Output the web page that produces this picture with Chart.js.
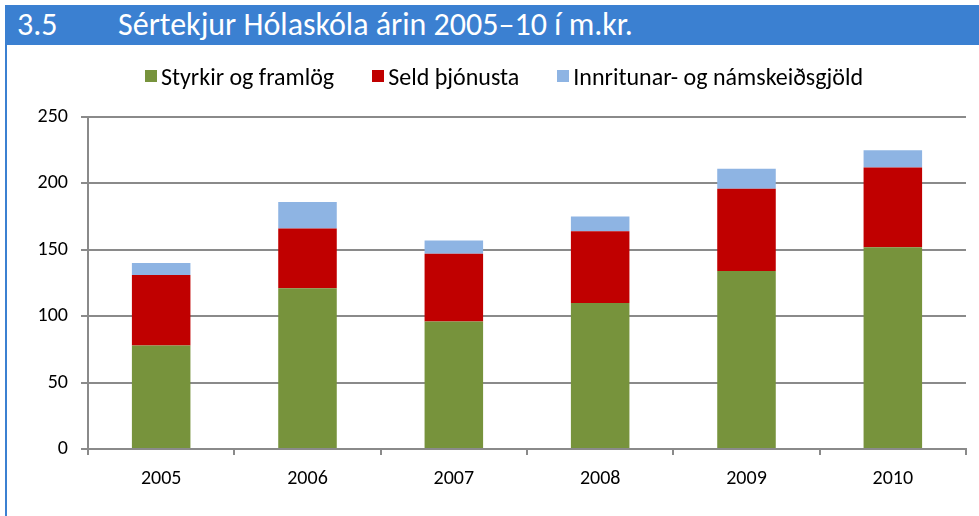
<!DOCTYPE html>
<html>
<head>
	<meta charset="utf-8">
	<title>Sértekjur Hólaskóla</title>
	<script src="https://cdn.jsdelivr.net/npm/chart.js@4.4.1/dist/chart.umd.min.js"></script>
	<style>
		body { margin: 0; background: #fff; }
		#wrap { position: relative; width: 979px; height: 516px; overflow: hidden; }
		#barChart { position: absolute; left: 0; top: 0; }
		#titleBar
		{
			position: absolute; left: 5px; top: 5px; width: 974px; height: 40px;
			background: #3b80d1; color: #fff;
			font-family: Carlito, "Liberation Sans Narrow", "Open Sans", sans-serif;
			font-size: 32px; line-height: 40px; white-space: nowrap;
		}
		#titleBar span.num { position: absolute; left: 12px; }
		#titleBar span.txt { position: absolute; left: 113px; }
		#leftLine { position: absolute; left: 5px; top: 45px; width: 2px; height: 471px; background: #3b80d1; }
		#legend
		{
			position: absolute; left: 18px; top: 60px; width: 972px; height: 32px;
			display: flex; justify-content: center; align-items: center;
			font-family: Carlito, "Liberation Sans Narrow", "Open Sans", sans-serif;
			font-size: 24px; color: #000; white-space: nowrap;
		}
		#legend .item { display: flex; align-items: center; margin: 0 19px; }
		#legend .box { width: 12px; height: 12px; margin-right: 4px; }
	</style>
</head>
<body>
<div id="wrap">
	<canvas id="barChart" width="979" height="516"></canvas>
	<div id="titleBar"><span class="num">3.5</span><span class="txt">Sértekjur Hólaskóla árin 2005–10 í m.kr.</span></div>
	<div id="leftLine"></div>
	<div id="legend"></div>
</div>
<script>
	// data, m.kr.
	var YEARS = ['2005', '2006', '2007', '2008', '2009', '2010'];
	var STYRKIR = [78, 121, 96, 110, 134, 152];
	var SELD = [53, 45, 51, 54, 62, 60];
	var INNRITUN = [9, 20, 10, 11, 15, 13];
	var SERIES_NAMES = ['Styrkir og framlög', 'Seld þjónusta', 'Innritunar- og námskeiðsgjöld'];
	var COLORS = ['#77933c', '#c00000', '#8eb4e3'];

	var FONT = "Carlito, 'Liberation Sans Narrow', 'Open Sans', sans-serif";
	var GRID = '#8a8a8a';

	var ctx = document.getElementById('barChart').getContext('2d');
	var myChart = new Chart(ctx, {
		type: 'bar',
		data: {
			labels: YEARS,
			datasets: [
				{ label: SERIES_NAMES[0], data: STYRKIR, backgroundColor: COLORS[0] },
				{ label: SERIES_NAMES[1], data: SELD, backgroundColor: COLORS[1] },
				{ label: SERIES_NAMES[2], data: INNRITUN, backgroundColor: COLORS[2] }
			]
		},
		options: {
			responsive: false,
			animation: false,
			barPercentage: 0.4,
			categoryPercentage: 1,
			layout: { padding: { top: 117, right: 13, bottom: 0, left: 0 } },
			plugins: {
				tooltip: { enabled: false },
				legend: { display: false }
			},
			scales: {
				x: {
					stacked: true,
					grid: { display: true, drawOnChartArea: false, drawTicks: true, tickLength: 6, color: GRID, lineWidth: 2 },
					border: { color: GRID, width: 2 },
					ticks: { color: '#000', padding: 12, font: { family: FONT, size: 20 } },
					afterFit: function(scale) { scale.height = 67; }
				},
				y: {
					stacked: true,
					min: 0, max: 250,
					grid: { color: GRID, lineWidth: 2, tickLength: 7 },
					border: { color: GRID, width: 2 },
					ticks: { stepSize: 50, color: '#000', padding: 13, font: { family: FONT, size: 20 } },
					afterFit: function(scale) { scale.width = 88; }
				}
			}
		}
	});

	// legend built from the chart's own datasets
	var legendDiv = document.getElementById('legend');
	myChart.data.datasets.forEach(function(ds) {
		var item = document.createElement('div');
		item.className = 'item';
		var box = document.createElement('span');
		box.className = 'box';
		box.style.background = ds.backgroundColor;
		var txt = document.createElement('span');
		txt.textContent = ds.label;
		item.appendChild(box);
		item.appendChild(txt);
		legendDiv.appendChild(item);
	});
</script>
</body>
</html>
